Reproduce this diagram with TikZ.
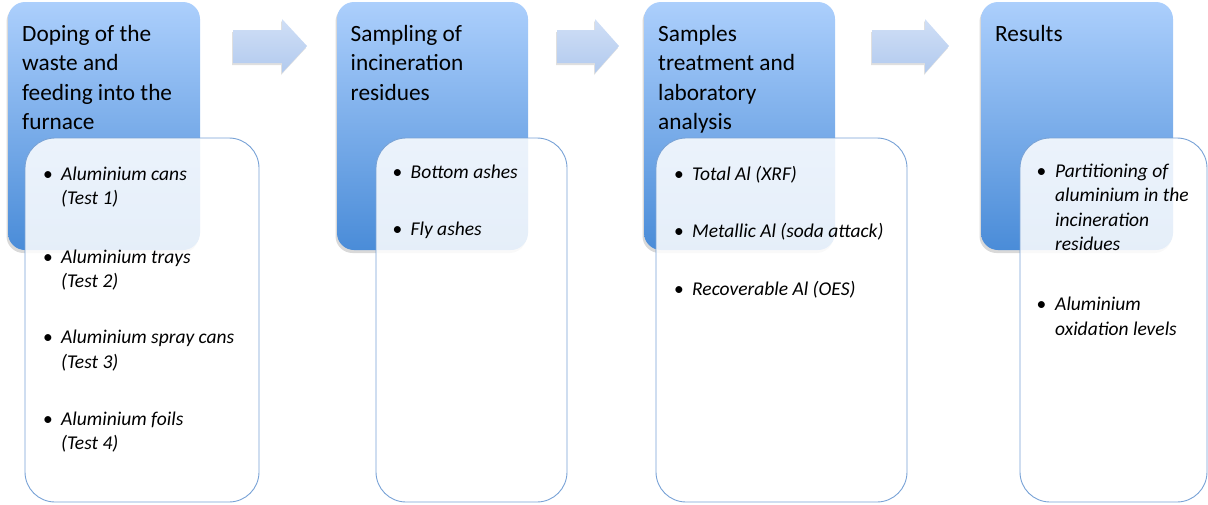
\documentclass[tikz,border=0pt]{standalone}
\usepackage{fontspec}
\setmainfont{Carlito}
\usetikzlibrary{shadows}
\definecolor{hdtop}{RGB}{172,207,252}
\definecolor{hdbot}{RGB}{74,140,216}
\definecolor{artop}{RGB}{208,223,246}
\definecolor{arbot}{RGB}{178,202,238}
\definecolor{bxline}{RGB}{120,162,214}
\tikzset{
  hdr/.style={rounded corners=17pt, top color=hdtop, bottom color=hdbot, draw=none,
    minimum width=192pt, minimum height=248pt, inner sep=0pt,
    drop shadow={opacity=0.3, shadow xshift=-1.5pt, shadow yshift=-3pt}},
  bx/.style={rounded corners=30pt, draw=bxline, line width=0.9pt, fill=white, fill opacity=0.86,
    minimum height=364pt, inner sep=0pt},
  arw/.style={top color=artop, bottom color=arbot,
    drop shadow={opacity=0.25, shadow xshift=-1pt, shadow yshift=-2pt}},
  hdtxt/.style={anchor=base west, inner sep=0pt, font=\fontsize{23.3}{28}\selectfont},
  itm/.style={anchor=base west, inner sep=0pt, font=\fontsize{19.5}{24}\selectfont\itshape},
  bul/.style={anchor=base, inner sep=0pt, font=\fontsize{19.5}{24}\selectfont}
}
\begin{document}
\begin{tikzpicture}[x=1pt,y=-1pt]
\useasboundingbox (0,0) rectangle (1208,504);
% headers
\node[hdr] (h1) at (104,126) {};
\node[hdr, minimum width=191pt] (h2) at (432.5,126) {};
\node[hdr, minimum width=191pt] (h3) at (739.5,126) {};
\node[hdr] (h4) at (1077,126) {};
% arrows
\path[arw] (233,30) -- (282,30) -- (282,19) -- (307,46) -- (282,73) -- (282,63) -- (233,63) -- cycle;
\path[arw] (557,30) -- (595,30) -- (595,19) -- (619,46) -- (595,73) -- (595,63) -- (557,63) -- cycle;
\path[arw] (872,30) -- (925,30) -- (925,19) -- (949,46) -- (925,73) -- (925,63) -- (872,63) -- cycle;
% header texts
\node[hdtxt] (t11) at (22,41.7) {Doping of the};
\node[hdtxt] (t12) at (22,70.9) {waste and};
\node[hdtxt] (t13) at (22,100.1) {feeding into the};
\node[hdtxt] (t14) at (22,129.3) {furnace};
\node[hdtxt] (t21) at (350.5,41.7) {Sampling of};
\node[hdtxt] (t22) at (350.5,70.9) {incineration};
\node[hdtxt] (t23) at (350.5,100.1) {residues};
\node[hdtxt] (t31) at (658,41.7) {Samples};
\node[hdtxt] (t32) at (658,70.9) {treatment and};
\node[hdtxt] (t33) at (658,100.1) {laboratory};
\node[hdtxt] (t34) at (658,129.3) {analysis};
\node[hdtxt] (t41) at (995,41.7) {Results};
% white boxes
\node[bx, minimum width=234pt] (b1) at (142,320) {};
\node[bx, minimum width=191pt] (b2) at (471.5,320) {};
\node[bx, minimum width=251pt] (b3) at (781.5,320) {};
\node[bx, minimum width=187pt] (b4) at (1113.5,320) {};
% box 1 items
\node[bul] (p1) at (48,180) {\textbullet};
\node[itm] (i1a) at (61,180) {Aluminium cans};
\node[itm] (i1b) at (61,204.5) {(Test 1)};
\node[bul] (p2) at (48,263) {\textbullet};
\node[itm] (i2a) at (61,263) {Aluminium trays};
\node[itm] (i2b) at (61,287.5) {(Test 2)};
\node[bul] (p3) at (48,343.5) {\textbullet};
\node[itm] (i3a) at (61,343.5) {Aluminium spray cans};
\node[itm] (i3b) at (61,368) {(Test 3)};
\node[bul] (p4) at (48,425) {\textbullet};
\node[itm] (i4a) at (61,425) {Aluminium foils};
\node[itm] (i4b) at (61,449.5) {(Test 4)};
% box 2 items
\node[bul] (q1) at (397.5,178.5) {\textbullet};
\node[itm] (j1) at (410.5,178.5) {Bottom ashes};
\node[bul] (q2) at (397.5,235.5) {\textbullet};
\node[itm] (j2) at (410.5,235.5) {Fly ashes};
% box 3 items
\node[bul] (r1) at (679,180) {\textbullet};
\node[itm] (k1) at (692,180) {Total Al (XRF)};
\node[bul] (r2) at (679,237.5) {\textbullet};
\node[itm] (k2) at (692,237.5) {Metallic Al (soda attack)};
\node[bul] (r3) at (679,295) {\textbullet};
\node[itm] (k3) at (692,295) {Recoverable Al (OES)};
% box 4 items
\node[bul] (s1) at (1041.5,177) {\textbullet};
\node[itm] (m1a) at (1055,177) {Partitioning of};
\node[itm] (m1b) at (1055,201.5) {aluminium in the};
\node[itm] (m1c) at (1055,226) {incineration};
\node[itm] (m1d) at (1055,250.5) {residues};
\node[bul] (s2) at (1041.5,310.5) {\textbullet};
\node[itm] (m2a) at (1055,310.5) {Aluminium};
\node[itm] (m2b) at (1055,335) {oxidation levels};
\end{tikzpicture}
\end{document}
